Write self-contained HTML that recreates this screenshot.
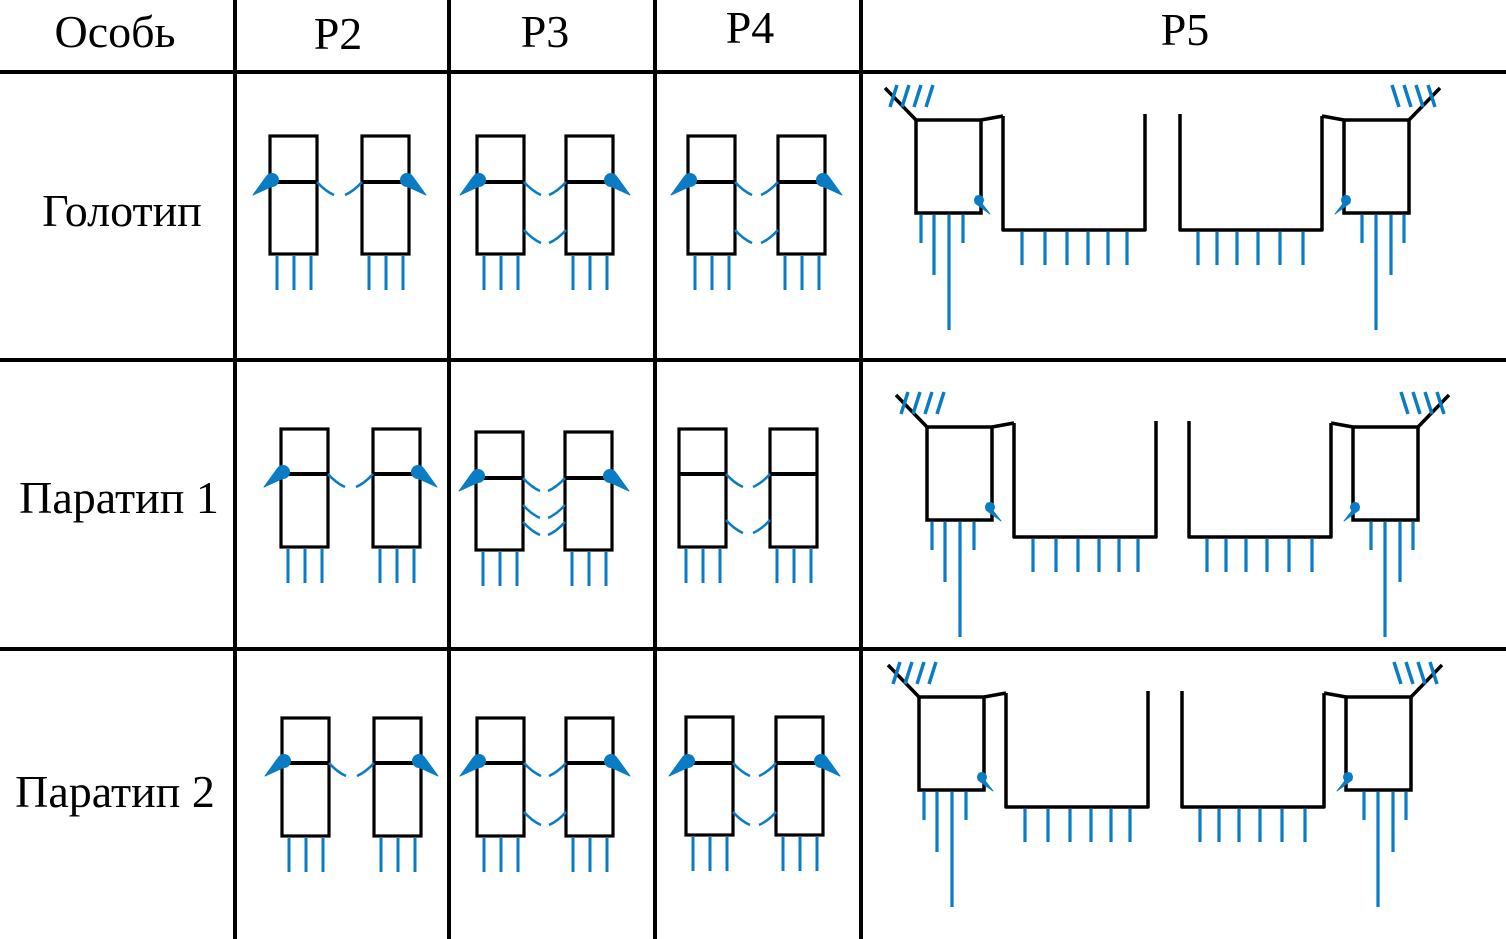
<!DOCTYPE html>
<html><head><meta charset="utf-8"><style>
html,body{margin:0;padding:0;background:#fff;}
svg{display:block;}
text{font-family:"Liberation Serif",serif;font-size:46px;fill:#000;}
</style></head><body>
<svg id="s" width="1506" height="939" xmlns="http://www.w3.org/2000/svg">
<rect width="1506" height="939" fill="#fff"/>
<g stroke="#000" stroke-width="4">
<line x1="0" y1="72" x2="1506" y2="72"/>
<line x1="0" y1="360" x2="1506" y2="360"/>
<line x1="0" y1="649" x2="1506" y2="649"/>
<line x1="235" y1="0" x2="235" y2="939"/>
<line x1="449" y1="0" x2="449" y2="939"/>
<line x1="655" y1="0" x2="655" y2="939"/>
<line x1="861" y1="0" x2="861" y2="939"/>
</g>
<text x="115" y="47" text-anchor="middle">Особь</text>
<text x="338" y="49" text-anchor="middle">P2</text>
<text x="545" y="47" text-anchor="middle">P3</text>
<text x="750" y="43" text-anchor="middle">P4</text>
<text x="1185" y="45" text-anchor="middle">P5</text>
<text x="122" y="226" text-anchor="middle">Голотип</text>
<text x="119" y="513" text-anchor="middle">Паратип 1</text>
<text x="115" y="807" text-anchor="middle">Паратип 2</text>
<g id="g"></g>
</svg>
<script>
var B="#0a7cc6",o="";
function ln(x1,y1,x2,y2,c,w){o+='<line x1="'+x1+'" y1="'+y1+'" x2="'+x2+'" y2="'+y2+'" stroke="'+c+'" stroke-width="'+(w||3)+'"/>';}
function pth(d,c,w,f){o+='<path d="'+d+'" stroke="'+c+'" stroke-width="'+w+'" fill="'+(f||'none')+'" stroke-linejoin="round"/>';}
function drop(x,y,dir){
 var tx=x-dir*19,ty=y+15;
 pth('M'+(x-dir*6)+' '+(y-3)+' L'+tx+' '+ty+' L'+(x+dir*5)+' '+(y+4)+'Z',B,1,B);
 o+='<circle cx="'+x+'" cy="'+y+'" r="7" fill="'+B+'"/>';
}
function pair(L,R,t,m,b,W,drops,arcs){
 [L,R].forEach(function(x){
  o+='<rect x="'+x+'" y="'+t+'" width="'+W+'" height="'+(b-t)+'" fill="none" stroke="#000" stroke-width="3.2"/>';
  ln(x,m,x+W,m,"#000",4);
  for(var i=0;i<3;i++)ln(x+7+i*17,b+2,x+7+i*17,b+36,B,3);
 });
 if(drops){drop(L+2,m-2,1);drop(R+W-2,m-2,-1);}
 arcs.forEach(function(y){
  var a=L+W,c=R;
  pth('M'+a+' '+y+' Q'+(a+8)+' '+(y+9)+' '+(a+17)+' '+(y+13),B,2.5);
  pth('M'+c+' '+y+' Q'+(c-8)+' '+(y+9)+' '+(c-17)+' '+(y+13),B,2.5);
 });
}
function p5(bx,by,cx){
 [1,-1].forEach(function(s){
  function X(x){return s==1?x:2*cx-x;}
  var bw=65,bh=93;
  var x0=X(bx),x1=X(bx+bw);
  o+='<rect x="'+Math.min(x0,x1)+'" y="'+by+'" width="'+bw+'" height="'+bh+'" fill="none" stroke="#000" stroke-width="3.5"/>';
  ln(x0,by,X(bx-31),by-32,"#000",3.5);
  for(var i=0;i<4;i++){var hx=X(bx-26+i*12);ln(hx,by-13,X(bx-26+i*12+7),by-35,B,3.5);}
  var ux=bx+87;
  ln(x1,by,X(ux),by-4,"#000",3.5);
  pth('M'+X(ux)+' '+(by-4)+' L'+X(ux)+' '+(by+110)+' L'+X(ux+142)+' '+(by+110)+' L'+X(ux+142)+' '+(by-6),"#000",3.5);
  [19,42,64,85,105,124].forEach(function(d){ln(X(ux+d),by+112,X(ux+d),by+145,B,3.2);});
  ln(X(bx+5),by+95,X(bx+5),by+123,B,3.2);
  ln(X(bx+18),by+95,X(bx+18),by+155,B,3.2);
  ln(X(bx+33),by+95,X(bx+33),by+210,B,3.2);
  ln(X(bx+47),by+95,X(bx+47),by+123,B,3.2);
  var dx=X(bx+bw-2),dy=by+bh-13;
  o+='<circle cx="'+dx+'" cy="'+dy+'" r="5" fill="'+B+'"/>';
  pth('M'+(dx-s*3)+' '+(dy-4)+' L'+X(bx+bw+9)+' '+(dy+14)+' L'+(dx-s*4)+' '+(dy+3)+'Z',B,1,B);
 });
}
pair(270,362,136,182,254,47,true,[182]);
pair(477,566,136,182,254,47,true,[182,230]);
pair(688,778,136,182,254,47,true,[182,230]);
pair(281,373,429,474,547,47,true,[474]);
pair(476,565,432,478,550,47,true,[478,505,522]);
pair(679,770,429,474,547,47,false,[474,520]);
pair(282,374,718,763,836,47,true,[763]);
pair(477,566,718,763,836,47,true,[763,812]);
pair(686,776,717,763,835,47,true,[763,812]);
p5(916,120,1162.5);
p5(927,427,1172.5);
p5(919,697,1165);
document.getElementById('g').innerHTML=o;
</script>
</body></html>
